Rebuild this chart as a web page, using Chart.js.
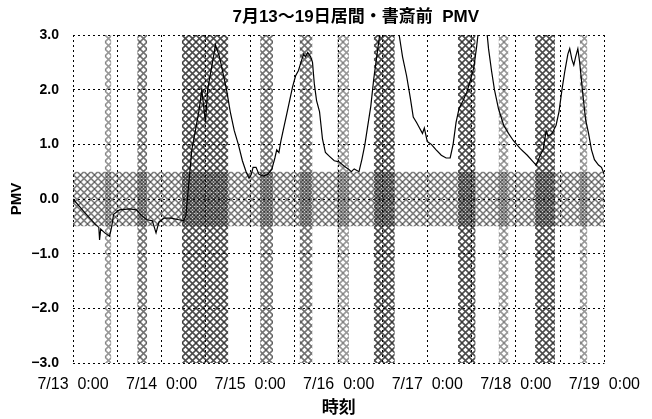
<!DOCTYPE html>
<html>
<head>
<meta charset="utf-8">
<script src="https://cdn.jsdelivr.net/npm/chart.js@4"></script>
<style>
  html, body { margin: 0; padding: 0; background: #fff; }
</style>
</head>
<body>
<canvas id="pmvChart" width="652" height="419"></canvas>
<script>
// Elapsed hours from 7/13 0:00 and the PMV reading at that time
const hours = [
    0, 3.2, 5.9, 7.0, 7.2, 7.5, 8.6, 9.9, 10.5, 11.0, 12.6, 15.3, 17.2, 18.5, 20.1, 21.5, 22.5, 23.3,
    24.7, 26.6, 28.7, 30.0, 30.6, 31.4, 32.2, 33.3, 34.1, 34.9, 35.4, 35.9, 36.5, 37.0, 37.8, 38.6,
    39.2, 39.7, 40.5, 41.6, 42.6, 43.7, 44.8, 45.9, 46.9, 47.7, 48.3, 48.8, 49.6, 50.4, 51.5, 52.8,
    53.9, 54.7, 55.2, 55.8, 56.3, 57.1, 57.9, 58.7, 59.5, 60.3, 61.1, 62.0, 62.5, 63.0, 63.6, 64.4,
    64.9, 65.4, 66.0, 66.8, 67.6, 68.4, 69.5, 70.8, 72.1, 73.5, 74.6, 75.4, 76.2, 77.5, 78.3, 79.1,
    79.9, 80.7, 81.5, 82.3, 83.1, 83.7, 85.5, 87.7, 88.5, 89.3, 90.4, 91.4, 92.2, 93.1, 93.9, 94.7,
    95.2, 96.0, 97.1, 98.4, 99.8, 101.1, 102.2, 103.0, 103.8, 104.6, 105.7, 106.7, 107.8, 108.6,
    109.4, 109.9, 111.0, 112.1, 112.6, 113.4, 114.2, 115.3, 116.7, 118.0, 119.3, 121.2, 123.1,
    124.7, 125.5, 126.6, 127.4, 128.2, 128.7, 129.8, 130.9, 131.7, 132.5, 133.3, 134.1, 134.6,
    135.2, 135.7, 136.2, 136.8, 137.3, 138.1, 138.9, 139.7, 140.5, 141.3, 142.4, 143.2, 144.0
];
const pmv = [
    0.0, -0.25, -0.45, -0.52, -0.75, -0.55, -0.62, -0.68, -0.5, -0.28, -0.2, -0.18, -0.2, -0.3, -0.38, -0.4, -0.62, -0.42,
    -0.35, -0.35, -0.38, -0.4, -0.3, 0.3, 0.9, 1.3, 1.6, 2.0, 1.7, 1.4, 2.0, 2.2, 2.5, 2.82,
    2.7, 2.6, 2.35, 2.0, 1.6, 1.25, 1.0, 0.7, 0.5, 0.38, 0.45, 0.58, 0.58, 0.45, 0.42, 0.45,
    0.55, 0.75, 0.9, 0.85, 1.05, 1.3, 1.55, 1.8, 2.05, 2.25, 2.35, 2.55, 2.65, 2.6, 2.68, 2.6,
    2.5, 2.1, 1.8, 1.6, 1.1, 0.85, 0.78, 0.7, 0.68, 0.6, 0.55, 0.5, 0.55, 0.5, 0.73, 1.0,
    1.35, 1.7, 2.2, 2.6, 3.0, 3.3, 3.5, 3.3, 2.95, 2.6, 2.25, 1.85, 1.5, 1.4, 1.3, 1.2,
    1.3, 1.05, 1.0, 0.9, 0.8, 0.75, 0.75, 1.0, 1.4, 1.65, 1.8, 1.95, 2.2, 2.4,
    2.8, 3.1, 3.4, 3.1, 2.75, 2.35, 2.0, 1.65, 1.35, 1.2, 1.07, 0.92, 0.8,
    0.68, 0.62, 0.8, 0.9, 1.25, 1.15, 1.2, 1.35, 1.6, 2.0, 2.35, 2.65, 2.75,
    2.55, 2.45, 2.6, 2.75, 2.5, 1.95, 1.45, 1.2, 0.9, 0.72, 0.62, 0.58, 0.45
];

// Hatched periods (hours) and how dense each hatch is (1 light .. 3 dark)
const bandStart = [8.6, 17.4, 29.5, 50.7, 61.4, 71.6, 81.5, 104.3, 115.3, 125.2, 137.3];
const bandEnd   = [10.4, 20.1, 42.1, 54.2, 64.9, 74.8, 87.2, 109.1, 118.0, 130.6, 139.4];
const bandLevel = [1, 2, 3, 2, 2, 1, 3, 3, 1, 3, 1];

// Comfort range -0.5 .. +0.5
const comfortLow = -0.5;
const comfortHigh = 0.5;

const dayLabels = ['7/13  0:00', '7/14  0:00', '7/15  0:00', '7/16  0:00', '7/17  0:00', '7/18  0:00', '7/19  0:00'];
const titleText = '7月13～19日居間・書斎前  PMV';

const canvas = document.getElementById('pmvChart');
const ctx = canvas.getContext('2d');

// diagonal cross-hatch tile
function hatch(alpha, shift) {
    const n = 7;
    const tile = document.createElement('canvas');
    tile.width = n;
    tile.height = n;
    const g = tile.getContext('2d');
    g.strokeStyle = 'rgba(0,0,0,' + alpha + ')';
    g.lineWidth = 1.6;
    for (let dx = -n; dx <= n; dx += n) {
        g.beginPath();
        g.moveTo(dx + shift, 0);
        g.lineTo(dx + shift + n, n);
        g.moveTo(dx + shift + n, 0);
        g.lineTo(dx + shift, n);
        g.stroke();
    }
    return ctx.createPattern(tile, 'repeat');
}

const levelAlpha = { 1: 0.4, 2: 0.55, 3: 0.7 };

const datasets = [{
    label: 'PMV',
    data: hours.map((h, i) => ({ x: h, y: pmv[i] })),
    borderColor: '#000',
    borderWidth: 1.2,
    pointRadius: 0,
    tension: 0,
    fill: false
}];

bandStart.forEach((s, i) => {
    datasets.push({
        data: [{ x: s, y: 3 }, { x: bandEnd[i], y: 3 }],
        borderWidth: 0,
        pointRadius: 0,
        backgroundColor: hatch(levelAlpha[bandLevel[i]], 0),
        fill: { value: -3 }
    });
});

datasets.push({
    data: [{ x: 0, y: comfortHigh }, { x: 144, y: comfortHigh }],
    borderWidth: 0,
    pointRadius: 0,
    backgroundColor: hatch(0.5, 3.5),
    fill: { value: comfortLow }
});

const titlePlugin = {
    id: 'pmvTitle',
    afterDraw(chart) {
        const c = chart.ctx;
        const area = chart.chartArea;
        c.save();
        c.font = 'bold 17px "Liberation Sans", "Noto Sans CJK JP", sans-serif';
        c.fillStyle = '#000';
        c.textAlign = 'center';
        c.textBaseline = 'middle';
        c.fillText(titleText, (area.left + area.right) / 2 + 17, 17);
        c.restore();
    }
};

new Chart(ctx, {
    type: 'line',
    data: { datasets: datasets },
    options: {
        responsive: false,
        animation: false,
        layout: { padding: { left: 0, right: 42, top: 35, bottom: 0 } },
        plugins: {
            legend: { display: false },
            tooltip: { enabled: false },
            title: { display: false }
        },
        scales: {
            x: {
                type: 'linear',
                min: 0,
                max: 144,
                afterFit: scale => { scale.height = 56; },
                ticks: {
                    stepSize: 12,
                    autoSkip: false,
                    maxRotation: 0,
                    padding: 12,
                    color: '#000',
                    font: { family: '"Liberation Sans", sans-serif', size: 16 },
                    callback: v => (v % 24 === 0 ? dayLabels[v / 24] : '')
                },
                grid: { color: '#000', lineWidth: 1, drawTicks: false },
                border: { display: false, dash: [2, 3] },
                title: {
                    display: true,
                    text: '時刻',
                    color: '#000',
                    padding: { top: 0, bottom: 2 },
                    font: { family: '"Noto Sans CJK JP", sans-serif', size: 17, weight: 'bold' }
                }
            },
            y: {
                min: -3,
                max: 3,
                afterFit: scale => { scale.width = 73; },
                ticks: {
                    stepSize: 1,
                    padding: 14,
                    color: '#000',
                    font: { family: '"Liberation Sans", sans-serif', size: 14, weight: 'bold' },
                    callback: v => v.toFixed(1).replace('-', '−')
                },
                grid: { color: '#000', lineWidth: 1, drawTicks: false },
                border: { display: false, dash: [2, 3] },
                title: {
                    display: true,
                    text: 'PMV',
                    color: '#000',
                    padding: { top: 8, bottom: 0 },
                    font: { family: '"Liberation Sans", sans-serif', size: 15, weight: 'bold' }
                }
            }
        }
    },
    plugins: [titlePlugin]
});
</script>
</body>
</html>
